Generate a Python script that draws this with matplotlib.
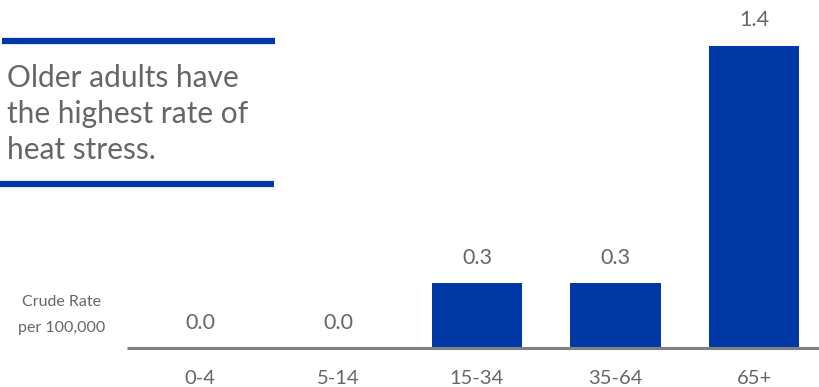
import matplotlib.pyplot as plt
import numpy as np

plt.rcParams['font.family'] = ['Lato', 'DejaVu Sans']

age_groups = ['0-4', '5-14', '15-34', '35-64', '65+']
crude_rate = [0.0, 0.0, 0.3, 0.3, 1.4]
rate_labels = ['0.0', '0.0', '0.3', '0.3', '1.4']

blue = '#0039A6'
grey_text = '#666666'

fig = plt.figure(figsize=(8.2, 3.87), dpi=100)
ax = fig.add_axes([0, 39 / 387, 1, 348 / 387])

x = np.arange(len(age_groups))
ax.bar(x, crude_rate, width=0.65, color=blue)

for xi, val, lab in zip(x, crude_rate, rate_labels):
    ax.annotate(lab, (xi, val), xytext=(0, 11), textcoords='offset points',
                ha='center', va='bottom', fontsize=15.5, color=grey_text)

# pixel-ish layout: 0-4 centre at 200px, 138.5px per category
ax.set_xlim(-200 / 138.5, 620 / 138.5)
ax.set_ylim(0, 1.611)

ax.set_xticks(x)
ax.set_xticklabels(age_groups, fontsize=14.5, color=grey_text)
ax.tick_params(axis='x', length=0, pad=16)
ax.set_yticks([])
for s in ['left', 'right', 'top', 'bottom']:
    ax.spines[s].set_visible(False)

# baseline from ~127px to the right edge
ax.plot([(127 - 200) / 138.5, 620 / 138.5], [0, 0], color='#808080', lw=2.2,
        clip_on=False, solid_capstyle='butt')

# y-axis caption
fig.text(62 / 820, 1 - 302 / 387, 'Crude Rate', ha='center', va='center',
         fontsize=11.5, color=grey_text)
fig.text(62 / 820, 1 - 328 / 387, 'per 100,000', ha='center', va='center',
         fontsize=11.5, color=grey_text)

# headline box
fig.add_artist(plt.Line2D([2 / 820, 275 / 820], [1 - 41 / 387] * 2,
                          color=blue, lw=4.5, solid_capstyle='butt'))
fig.add_artist(plt.Line2D([0, 274 / 820], [1 - 184 / 387] * 2,
                          color=blue, lw=4.5, solid_capstyle='butt'))
for i, line in enumerate(['Older adults have', 'the highest rate of',
                          'heat stress.']):
    fig.text(7 / 820, 1 - (78 + 36 * i) / 387, line, ha='left', va='center',
             fontsize=21.5, color=grey_text)

fig.savefig('out.png', dpi=100)
plt.close(fig)
